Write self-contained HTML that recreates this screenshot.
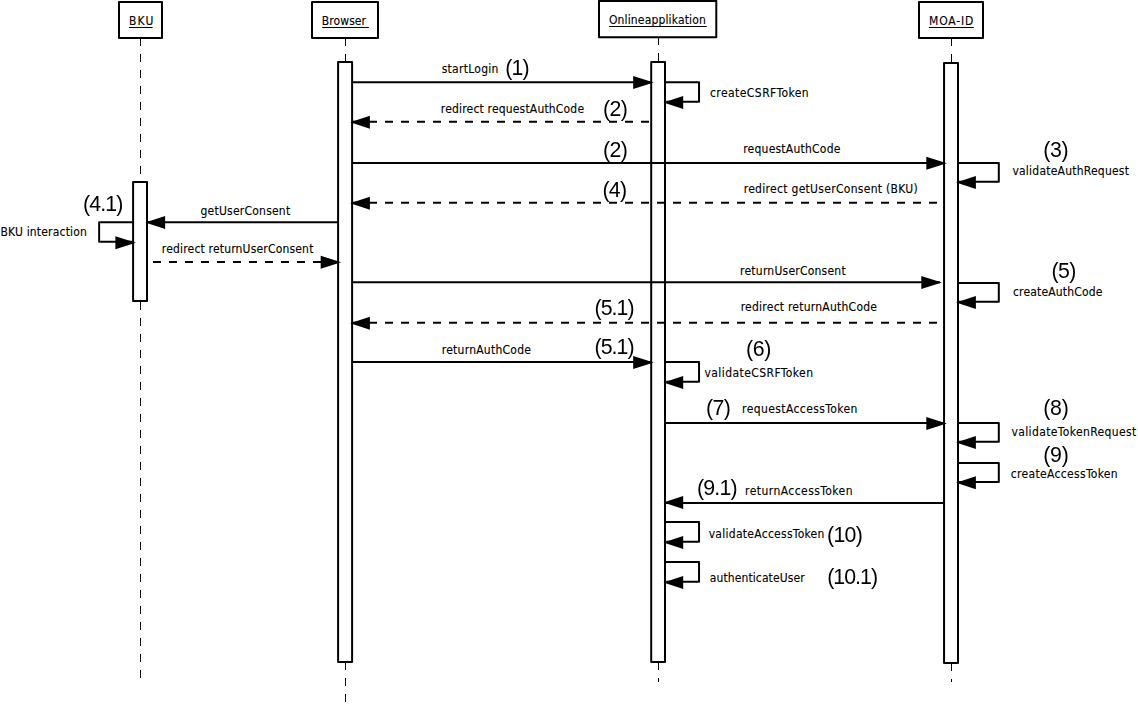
<!DOCTYPE html>
<html lang="de">
<head>
<meta charset="utf-8">
<title>Sequenzdiagramm</title>
<style>
html,body{margin:0;padding:0;background:#fff;}
body{width:1138px;height:705px;overflow:hidden;}
svg{display:block;}
text{fill:#000;white-space:pre;}
text.n{filter:url(#gs);}
text.l{stroke:#000;stroke-width:0.12px;}
</style>
</head>
<body>
<svg width="1138" height="705" viewBox="0 0 1138 705">
<defs><filter id="gs" x="-10%" y="-10%" width="120%" height="120%" color-interpolation-filters="sRGB"><feColorMatrix type="saturate" values="0"/></filter></defs>
<rect x="0" y="0" width="1138" height="705" fill="#fff"/>
<line x1="140.5" y1="38" x2="140.5" y2="181" stroke="#000" stroke-width="1" stroke-dasharray="8 8"/>
<line x1="140.5" y1="302" x2="140.5" y2="678" stroke="#000" stroke-width="1" stroke-dasharray="8 8"/>
<line x1="345.5" y1="38" x2="345.5" y2="61" stroke="#000" stroke-width="1" stroke-dasharray="8 8"/>
<line x1="345.5" y1="662" x2="345.5" y2="705" stroke="#000" stroke-width="1" stroke-dasharray="8 8"/>
<line x1="658.5" y1="37.0" x2="658.5" y2="61" stroke="#000" stroke-width="1" stroke-dasharray="8 8"/>
<line x1="658.5" y1="662" x2="658.5" y2="682" stroke="#000" stroke-width="1" stroke-dasharray="8 8"/>
<line x1="951.5" y1="38" x2="951.5" y2="62" stroke="#000" stroke-width="1" stroke-dasharray="8 8"/>
<line x1="951.5" y1="663" x2="951.5" y2="682" stroke="#000" stroke-width="1" stroke-dasharray="8 8"/>
<rect x="119.00" y="2.00" width="43.00" height="36.00" fill="#fff" stroke="#000" stroke-width="2.0" stroke-linejoin="round"/>
<rect x="312.00" y="2.00" width="66.00" height="36.00" fill="#fff" stroke="#000" stroke-width="2.0" stroke-linejoin="round"/>
<rect x="599.00" y="0.90" width="117.30" height="36.30" fill="#fff" stroke="#000" stroke-width="2.0" stroke-linejoin="round"/>
<rect x="919.00" y="2.00" width="64.00" height="36.00" fill="#fff" stroke="#000" stroke-width="2.0" stroke-linejoin="round"/>
<rect x="133.10" y="182.00" width="13.90" height="119.00" fill="#fff" stroke="#000" stroke-width="2.0" stroke-linejoin="round"/>
<rect x="338.10" y="62.00" width="14.00" height="599.90" fill="#fff" stroke="#000" stroke-width="2.0" stroke-linejoin="round"/>
<rect x="651.20" y="62.00" width="13.80" height="599.90" fill="#fff" stroke="#000" stroke-width="2.0" stroke-linejoin="round"/>
<rect x="944.05" y="63.00" width="13.95" height="599.90" fill="#fff" stroke="#000" stroke-width="2.0" stroke-linejoin="round"/>
<line x1="353" y1="82.15" x2="651.7" y2="82.15" stroke="#000" stroke-width="2.0"/>
<polygon points="653.7,82.55000000000001 633.2,76.05000000000001 633.2,89.05000000000001" fill="#000"/>
<line x1="353" y1="121.85" x2="649" y2="121.85" stroke="#000" stroke-width="2.0" stroke-dasharray="8 8"/>
<polygon points="350.1,122.25 369.90000000000003,115.75 369.90000000000003,128.75" fill="#000"/>
<line x1="353" y1="162.9" x2="944.8" y2="162.9" stroke="#000" stroke-width="2.0"/>
<polygon points="946.8,163.3 926.3,156.8 926.3,169.8" fill="#000"/>
<line x1="353" y1="202.8" x2="943.5" y2="202.8" stroke="#000" stroke-width="2.0" stroke-dasharray="8 8"/>
<polygon points="350.1,203.20000000000002 369.90000000000003,196.70000000000002 369.90000000000003,209.70000000000002" fill="#000"/>
<line x1="337.5" y1="222.2" x2="147.3" y2="222.2" stroke="#000" stroke-width="2.0"/>
<polygon points="145.3,222.6 165.10000000000002,216.1 165.10000000000002,229.1" fill="#000"/>
<line x1="337" y1="261.95" x2="148.5" y2="261.95" stroke="#000" stroke-width="2.0" stroke-dasharray="8 8"/>
<polygon points="341.2,262.34999999999997 320.7,255.84999999999997 320.7,268.84999999999997" fill="#000"/>
<line x1="353" y1="282.2" x2="939.8" y2="282.2" stroke="#000" stroke-width="2.0"/>
<polygon points="941.8,282.59999999999997 921.3,276.09999999999997 921.3,289.09999999999997" fill="#000"/>
<line x1="353" y1="322.8" x2="943.5" y2="322.8" stroke="#000" stroke-width="2.0" stroke-dasharray="8 8"/>
<polygon points="350.1,323.2 369.90000000000003,316.7 369.90000000000003,329.7" fill="#000"/>
<line x1="353" y1="362.0" x2="651.7" y2="362.0" stroke="#000" stroke-width="2.0"/>
<polygon points="653.7,362.4 633.2,355.9 633.2,368.9" fill="#000"/>
<line x1="666" y1="423.0" x2="944.8" y2="423.0" stroke="#000" stroke-width="2.0"/>
<polygon points="946.8,423.4 926.3,416.9 926.3,429.9" fill="#000"/>
<line x1="943.5" y1="502.9" x2="665.4" y2="502.9" stroke="#000" stroke-width="2.0"/>
<polygon points="663.4,502.5 683.1999999999999,496.0 683.1999999999999,509.0" fill="#000"/>
<polyline points="665.5,82.15 699.05,82.15 699.05,101.7 666.4,101.7" fill="none" stroke="#000" stroke-width="2.0" stroke-linejoin="round"/>
<polygon points="663.4,102.5 683.1999999999999,96.0 683.1999999999999,109.0" fill="#000"/>
<polyline points="958.5,162.9 998.8,162.9 998.8,181.7 959.1,181.7" fill="none" stroke="#000" stroke-width="2.0" stroke-linejoin="round"/>
<polygon points="956.1,182.5 975.9,176.0 975.9,189.0" fill="#000"/>
<polyline points="132.6,222.2 99.15,222.2 99.15,241.85 132.9,241.85" fill="none" stroke="#000" stroke-width="2.0" stroke-linejoin="round"/>
<polygon points="135.9,242.65 115.4,236.15 115.4,249.15" fill="#000"/>
<polyline points="958.5,283.1 998.8,283.1 998.8,301.7 959.1,301.7" fill="none" stroke="#000" stroke-width="2.0" stroke-linejoin="round"/>
<polygon points="956.1,302.5 975.9,296.0 975.9,309.0" fill="#000"/>
<polyline points="665.5,362.0 699.05,362.0 699.05,381.65 666.4,381.65" fill="none" stroke="#000" stroke-width="2.0" stroke-linejoin="round"/>
<polygon points="663.4,382.45 683.1999999999999,375.95 683.1999999999999,388.95" fill="#000"/>
<polyline points="958.5,423.0 998.8,423.0 998.8,441.7 959.1,441.7" fill="none" stroke="#000" stroke-width="2.0" stroke-linejoin="round"/>
<polygon points="956.1,442.5 975.9,436.0 975.9,449.0" fill="#000"/>
<polyline points="958.5,463.1 998.8,463.1 998.8,481.9 959.1,481.9" fill="none" stroke="#000" stroke-width="2.0" stroke-linejoin="round"/>
<polygon points="956.1,482.7 975.9,476.2 975.9,489.2" fill="#000"/>
<polyline points="665.5,522.0 699.05,522.0 699.05,541.8 666.4,541.8" fill="none" stroke="#000" stroke-width="2.0" stroke-linejoin="round"/>
<polygon points="663.4,542.5999999999999 683.1999999999999,536.0999999999999 683.1999999999999,549.0999999999999" fill="#000"/>
<polyline points="665.5,562.0 699.05,562.0 699.05,581.65 666.4,581.65" fill="none" stroke="#000" stroke-width="2.0" stroke-linejoin="round"/>
<polygon points="663.4,582.4499999999999 683.1999999999999,575.9499999999999 683.1999999999999,588.9499999999999" fill="#000"/>
<line x1="129" y1="27.5" x2="152.6" y2="27.5" stroke="#000" stroke-width="1"/>
<line x1="322.2" y1="27.5" x2="368.9" y2="27.5" stroke="#000" stroke-width="1"/>
<line x1="609.1" y1="26.5" x2="706.8" y2="26.5" stroke="#000" stroke-width="1"/>
<line x1="928.9" y1="27.5" x2="973.9" y2="27.5" stroke="#000" stroke-width="1"/>
<text class="l" x="128.9" y="25" font-family="'DejaVu Sans Condensed','Liberation Sans',sans-serif" font-size="12" textLength="24.48" lengthAdjust="spacing">BKU</text>
<text class="l" x="321.8" y="25" font-family="'DejaVu Sans Condensed','Liberation Sans',sans-serif" font-size="12" textLength="44.22" lengthAdjust="spacing">Browser</text>
<text class="l" x="608.9" y="24" font-family="'DejaVu Sans Condensed','Liberation Sans',sans-serif" font-size="12" textLength="96.9" lengthAdjust="spacing">Onlineapplikation</text>
<text class="l" x="929.1" y="25" font-family="'DejaVu Sans Condensed','Liberation Sans',sans-serif" font-size="12" textLength="44.12" lengthAdjust="spacing">MOA-ID</text>
<text class="l" x="441.7" y="73" font-family="'DejaVu Sans Condensed','Liberation Sans',sans-serif" font-size="12" textLength="56.75" lengthAdjust="spacing">startLogin</text>
<text class="l" x="710.0" y="97" font-family="'DejaVu Sans Condensed','Liberation Sans',sans-serif" font-size="12" textLength="98.71" lengthAdjust="spacing">createCSRFToken</text>
<text class="l" x="440.8" y="113" font-family="'DejaVu Sans Condensed','Liberation Sans',sans-serif" font-size="12" textLength="143.25" lengthAdjust="spacing">redirect requestAuthCode</text>
<text class="l" x="743.2" y="153" font-family="'DejaVu Sans Condensed','Liberation Sans',sans-serif" font-size="12" textLength="97.17" lengthAdjust="spacing">requestAuthCode</text>
<text class="l" x="1012.4" y="175" font-family="'DejaVu Sans Condensed','Liberation Sans',sans-serif" font-size="12" textLength="116.55" lengthAdjust="spacing">validateAuthRequest</text>
<text class="l" x="743.7" y="193" font-family="'DejaVu Sans Condensed','Liberation Sans',sans-serif" font-size="12" textLength="174.09" lengthAdjust="spacing">redirect getUserConsent (BKU)</text>
<text class="l" x="200.5" y="215" font-family="'DejaVu Sans Condensed','Liberation Sans',sans-serif" font-size="12" textLength="89.67" lengthAdjust="spacing">getUserConsent</text>
<text class="l" x="0.4" y="236" font-family="'DejaVu Sans Condensed','Liberation Sans',sans-serif" font-size="12" textLength="86.49" lengthAdjust="spacing">BKU interaction</text>
<text class="l" x="161.8" y="253" font-family="'DejaVu Sans Condensed','Liberation Sans',sans-serif" font-size="12" textLength="151.58" lengthAdjust="spacing">redirect returnUserConsent</text>
<text class="l" x="740.1" y="275" font-family="'DejaVu Sans Condensed','Liberation Sans',sans-serif" font-size="12" textLength="105.51" lengthAdjust="spacing">returnUserConsent</text>
<text class="l" x="1013.0" y="296" font-family="'DejaVu Sans Condensed','Liberation Sans',sans-serif" font-size="12" textLength="89.39" lengthAdjust="spacing">createAuthCode</text>
<text class="l" x="740.7" y="311" font-family="'DejaVu Sans Condensed','Liberation Sans',sans-serif" font-size="12" textLength="136.3" lengthAdjust="spacing">redirect returnAuthCode</text>
<text class="l" x="441.8" y="354" font-family="'DejaVu Sans Condensed','Liberation Sans',sans-serif" font-size="12" textLength="89.11" lengthAdjust="spacing">returnAuthCode</text>
<text class="l" x="704.5" y="377" font-family="'DejaVu Sans Condensed','Liberation Sans',sans-serif" font-size="12" textLength="108.52" lengthAdjust="spacing">validateCSRFToken</text>
<text class="l" x="742.1" y="413" font-family="'DejaVu Sans Condensed','Liberation Sans',sans-serif" font-size="12" textLength="115.32" lengthAdjust="spacing">requestAccessToken</text>
<text class="l" x="1011.4" y="436" font-family="'DejaVu Sans Condensed','Liberation Sans',sans-serif" font-size="12" textLength="124.82" lengthAdjust="spacing">validateTokenRequest</text>
<text class="l" x="1010.83" y="478" font-family="'DejaVu Sans Condensed','Liberation Sans',sans-serif" font-size="12" textLength="106.85" lengthAdjust="spacing">createAccessToken</text>
<text class="l" x="745.1" y="495" font-family="'DejaVu Sans Condensed','Liberation Sans',sans-serif" font-size="12" textLength="107.38" lengthAdjust="spacing">returnAccessToken</text>
<text class="l" x="708.7" y="538" font-family="'DejaVu Sans Condensed','Liberation Sans',sans-serif" font-size="12" textLength="115.67" lengthAdjust="spacing">validateAccessToken</text>
<text class="l" x="709.8" y="582" font-family="'DejaVu Sans Condensed','Liberation Sans',sans-serif" font-size="12" textLength="94.8" lengthAdjust="spacing">authenticateUser</text>
<text class="n" x="505.16" y="74.5" font-family="'Liberation Sans',sans-serif" font-size="21.33" textLength="24.46" lengthAdjust="spacing">(1)</text>
<text class="n" x="602.95" y="115.5" font-family="'Liberation Sans',sans-serif" font-size="21.33" textLength="24.83" lengthAdjust="spacing">(2)</text>
<text class="n" x="602.95" y="156.6" font-family="'Liberation Sans',sans-serif" font-size="21.33" textLength="24.83" lengthAdjust="spacing">(2)</text>
<text class="n" x="1043.17" y="156.5" font-family="'Liberation Sans',sans-serif" font-size="21.33" textLength="25.32" lengthAdjust="spacing">(3)</text>
<text class="n" x="602.44" y="196.8" font-family="'Liberation Sans',sans-serif" font-size="21.33" textLength="24.74" lengthAdjust="spacing">(4)</text>
<text class="n" x="82.98" y="211.4" font-family="'Liberation Sans',sans-serif" font-size="21.33" textLength="40.29" lengthAdjust="spacing">(4.1)</text>
<text class="n" x="1051.5" y="277.6" font-family="'Liberation Sans',sans-serif" font-size="21.33" textLength="24.78" lengthAdjust="spacing">(5)</text>
<text class="n" x="594.5" y="314.8" font-family="'Liberation Sans',sans-serif" font-size="21.33" textLength="40.06" lengthAdjust="spacing">(5.1)</text>
<text class="n" x="594.5" y="353.5" font-family="'Liberation Sans',sans-serif" font-size="21.33" textLength="40.06" lengthAdjust="spacing">(5.1)</text>
<text class="n" x="745.98" y="356.2" font-family="'Liberation Sans',sans-serif" font-size="21.33" textLength="25.32" lengthAdjust="spacing">(6)</text>
<text class="n" x="706.0" y="414.6" font-family="'Liberation Sans',sans-serif" font-size="21.33" textLength="24.98" lengthAdjust="spacing">(7)</text>
<text class="n" x="1043.17" y="414.5" font-family="'Liberation Sans',sans-serif" font-size="21.33" textLength="25.7" lengthAdjust="spacing">(8)</text>
<text class="n" x="1043.17" y="462.0" font-family="'Liberation Sans',sans-serif" font-size="21.33" textLength="25.7" lengthAdjust="spacing">(9)</text>
<text class="n" x="696.98" y="495.4" font-family="'Liberation Sans',sans-serif" font-size="21.33" textLength="40.67" lengthAdjust="spacing">(9.1)</text>
<text class="n" x="826.98" y="541.5" font-family="'Liberation Sans',sans-serif" font-size="21.33" textLength="35.89" lengthAdjust="spacing">(10)</text>
<text class="n" x="827.17" y="583.6" font-family="'Liberation Sans',sans-serif" font-size="21.33" textLength="50.86" lengthAdjust="spacing">(10.1)</text>
</svg>
</body>
</html>
